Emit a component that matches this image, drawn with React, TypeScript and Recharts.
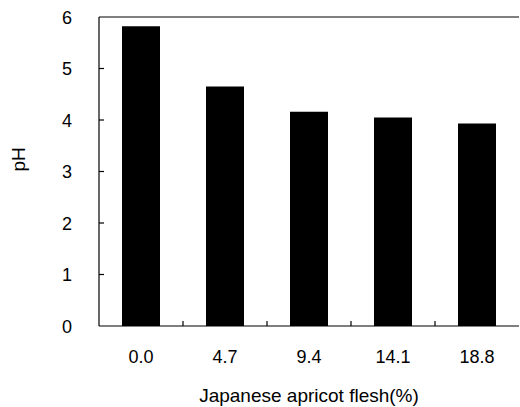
import React from "react";
import { BarChart, Bar, XAxis, YAxis, ReferenceLine } from "recharts";

// --- Data ---

const CATEGORIES = ["0.0", "4.7", "9.4", "14.1", "18.8"];
const PH_VALUES = [5.82, 4.65, 4.16, 4.05, 3.93];
const Y_TICKS = [0, 1, 2, 3, 4, 5, 6];

const data = CATEGORIES.map((c, i) => ({ name: c, ph: PH_VALUES[i] }));

// --- Layout ---

const W = 520;
const H = 407;
const Y_AXIS_W = 99;
const X_AXIS_H = 81;
const FONT = "'Liberation Sans', Arial, sans-serif";
const TICK_LEN = 5;

// inward tick + label for the y axis
function YTick(props: any) {
  const { x, y, payload } = props;
  const v = Number(payload.value);
  const inner = v > 0 && v < 6;
  return (
    <g>
      {inner ? (
        <line x1={Y_AXIS_W} x2={Y_AXIS_W + TICK_LEN} y1={y} y2={y} stroke="#000" strokeWidth={1.2} />
      ) : null}
      <text x={x} y={y} dy={6.5} textAnchor="end" fontSize={18} fontFamily={FONT} fill="#000">
        {v}
      </text>
    </g>
  );
}

// label under each bar, inward tick between categories
function XTick(props: any) {
  const { x, y, payload } = props;
  const half = payload.offset || 42;
  const axisY = H - X_AXIS_H;
  const last = CATEGORIES.indexOf(String(payload.value)) === CATEGORIES.length - 1;
  return (
    <g>
      {!last ? (
        <line
          x1={x + half}
          x2={x + half}
          y1={axisY}
          y2={axisY - TICK_LEN}
          stroke="#000"
          strokeWidth={1.2}
        />
      ) : null}
      <text x={x} y={y} dy={27} textAnchor="middle" fontSize={18} fontFamily={FONT} fill="#000">
        {payload.value}
      </text>
    </g>
  );
}

export default function App() {
  return (
    <div style={{ width: W, height: H, background: "#fff" }}>
      <style>{"body{margin:0}"}</style>
      <BarChart
        width={W}
        height={H}
        data={data}
        margin={{ top: 17, right: 1, bottom: 0, left: 0 }}
      >
        <XAxis
          dataKey="name"
          height={X_AXIS_H}
          tick={<XTick />}
          tickLine={false}
          axisLine={{ stroke: "#000", strokeWidth: 1.2 }}
          tickSize={0}
          tickMargin={10}
          interval={0}
          label={{
            value: "Japanese apricot flesh(%)",
            position: "insideBottom",
            offset: 5,
            fontSize: 19,
            fontFamily: FONT,
            fill: "#000",
          }}
        />
        <YAxis
          width={Y_AXIS_W}
          domain={[0, 6]}
          ticks={Y_TICKS}
          tick={<YTick />}
          tickLine={false}
          tickSize={0}
          tickMargin={27}
          axisLine={{ stroke: "#000", strokeWidth: 1.2 }}
          label={{
            value: "pH",
            angle: -90,
            position: "insideLeft",
            offset: 18,
            fontSize: 19,
            fontFamily: FONT,
            fill: "#000",
          }}
        />
        <ReferenceLine y={6} stroke="#000" strokeWidth={1.2} />
        <Bar dataKey="ph" fill="#000" barSize={38} isAnimationActive={false} />
      </BarChart>
    </div>
  );
}
